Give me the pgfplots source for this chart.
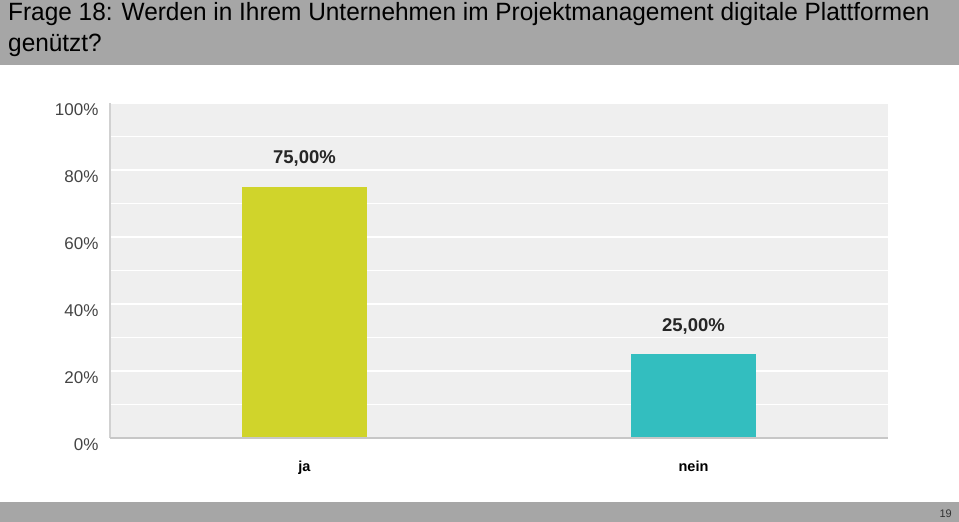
\documentclass[border=0pt]{standalone}
\usepackage{pgfplots}
\pgfplotsset{compat=1.18}
\usepackage{fontspec}
\setmainfont{Liberation Sans}
\definecolor{hdr}{HTML}{A6A6A6}
\definecolor{plotbg}{HTML}{EFEFEF}
\definecolor{barja}{HTML}{D0D42B}
\definecolor{barnein}{HTML}{33BEBF}
\definecolor{ticktxt}{HTML}{444444}
\begin{document}
\begin{tikzpicture}[x=1pt,y=1pt]
\useasboundingbox (0,0) rectangle (959,522);
\fill[white] (0,0) rectangle (959,522);
\fill[hdr] (0,457) rectangle (959,522);
\fill[hdr] (0,0) rectangle (959,20);
\node[anchor=base west, inner sep=0pt, xscale=0.976, font=\fontsize{25}{30}\selectfont] at (8,501) {Frage 18: Werden in Ihrem Unternehmen im Projektmanagement digitale Plattformen};
\node[anchor=base west, inner sep=0pt, xscale=0.976, font=\fontsize{25}{30}\selectfont] at (8,470) {genützt?};
\node[anchor=base east, inner sep=0pt, font=\fontsize{11}{13}\selectfont, text=black!80] at (952,4) {19};
\begin{axis}[
  at={(110pt,84pt)}, anchor=south west,
  scale only axis, width=778pt, height=335pt,
  xmin=-0.5, xmax=1.5, ymin=0, ymax=100,
  axis background/.style={fill=plotbg},
  axis line style={draw=none},
  xtick={0,1}, xticklabels={ja,nein},
  ytick={0,20,40,60,80,100},
  minor ytick={10,30,50,70,90},
  ymajorgrids, yminorgrids,
  major grid style={white, line width=1.5pt},
  minor grid style={white, line width=1.5pt},
  major tick length=0pt, minor tick length=0pt,
  yticklabel={\pgfmathprintnumber{\tick}\%},
  yticklabel style={font=\fontsize{17}{19}\selectfont, text=ticktxt, yshift=-7pt, xshift=-8pt},
  xticklabel style={font=\fontsize{14.5}{16}\selectfont\bfseries, text=black, anchor=base, yshift=-34pt},
  /pgf/number format/assume math mode=true,
  ybar, bar width=125pt,
  nodes near coords={\pgfmathprintnumber[fixed,fixed zerofill,precision=2,use comma]{\pgfplotspointmeta}\%},
  every node near coord/.append style={font=\fontsize{18.5}{20}\selectfont\bfseries, text=black!85, anchor=base, yshift=23pt},
  clip=false,
]
\addplot[bar shift=0pt, fill=barja, draw=none] coordinates {(0,75)};
\addplot[bar shift=0pt, fill=barnein, draw=none] coordinates {(1,25)};
\draw[black!18, line width=2pt] (rel axis cs:0,0) -- (rel axis cs:0,1);
\draw[black!22, line width=1.5pt] (rel axis cs:0,0) -- (rel axis cs:1,0);
\end{axis}
\end{tikzpicture}
\end{document}
